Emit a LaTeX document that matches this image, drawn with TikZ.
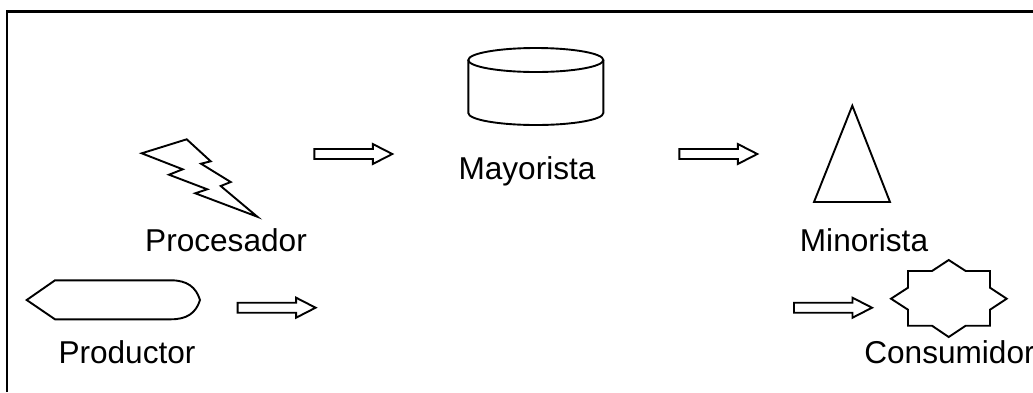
\documentclass[tikz,border=0pt]{standalone}
\usepackage{fontspec}
\setmainfont{Liberation Sans}
\tikzset{
  x=1pt,y=-1pt,
  outline/.style={draw=black,line width=1.9pt,line join=miter,fill=white},
  label text/.style={inner sep=0pt,font=\fontsize{31.6}{36}\selectfont,text=black},
  pics/blockarrow/.style={code={
    \draw[outline] (0,-5) -- (58.5,-5) -- (58.5,-10) -- (78,0) -- (58.5,10) -- (58.5,5) -- (0,5) -- cycle;
  }}
}
\begin{document}
\begin{tikzpicture}
\useasboundingbox (0,0) rectangle (1033,392);
\fill[white] (0,0) rectangle (1033,392);
% frame: only the left and top sides show in the picture
\draw[line width=2.2pt] (7,392) -- (7,11.5) -- (1033,11.5);
% lightning
\draw[outline] (141.7,153.3) -- (186.7,139.3) -- (210.7,161.3) -- (201,163.7) -- (230.7,182) -- (220.7,186) -- (257.3,216.7) -- (195.3,193.3) -- (207.3,189.3) -- (169,174.7) -- (182.7,169.3) -- cycle;
% cylinder
\draw[outline] (603.3,60) -- (603.3,113) arc[start angle=0,end angle=180,x radius=67.5,y radius=12] -- (468.3,60);
\draw[outline] (535.8,60) ellipse[x radius=67.5,y radius=12];
% triangle
\draw[outline] (852.3,105.7) -- (890,202) -- (814,202) -- cycle;
% star
\draw[outline] (948.7,260) -- (965.7,271) -- (990,271) -- (990,287.7) -- (1006.7,298.7) -- (990,309.7) -- (990,325.7) -- (965.7,325.7) -- (948.7,337) -- (932,325.7) -- (908,325.7) -- (908,309.7) -- (891,298.7) -- (908,287.7) -- (908,271) -- (932,271) -- cycle;
% productor shape
\draw[outline] (26.7,300) -- (55,280.3) -- (171,280.3) .. controls (187,280.3) and (196,287) .. (200,300) .. controls (196,313) and (187,319.3) .. (171,319.3) -- (55,319.3) -- cycle;
% block arrows
\pic at (314.3,154) {blockarrow};
\pic at (679.3,154) {blockarrow};
\pic at (237.6,307.7) {blockarrow};
\pic at (794,307.7) {blockarrow};
% labels
\node[label text,anchor=base] (procesador) at (226,251) {Procesador};
\node[label text,anchor=base] (mayorista) at (527,179.5) {Mayorista};
\node[label text,anchor=base] (minorista) at (864,251.7) {Minorista};
\node[label text,anchor=base] (productor) at (127,363) {Productor};
\node[label text,anchor=base] (consumidor) at (949.5,363) {Consumidor};
\end{tikzpicture}
\end{document}
